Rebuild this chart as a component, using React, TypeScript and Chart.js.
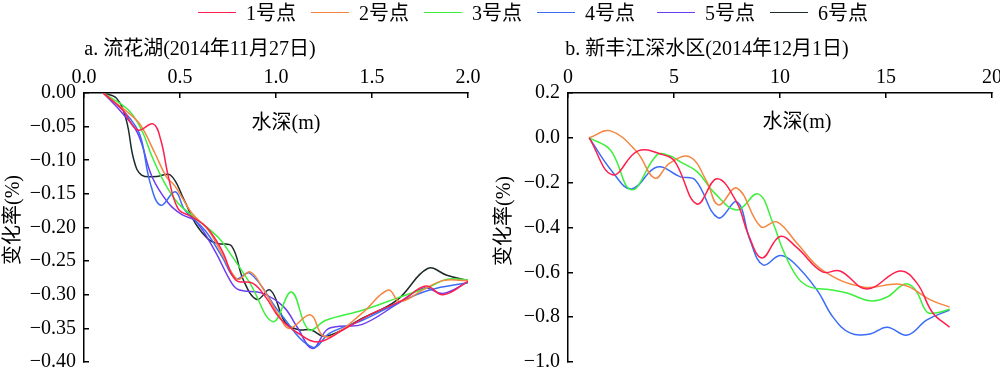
import React, { useEffect, useRef } from "react";
import { Chart, registerables } from "chart.js";

Chart.register(...registerables);

const FONT = "'Liberation Serif', 'Times New Roman', 'Noto Sans CJK SC', serif";

const SERIES_NAMES = ["1号点", "2号点", "3号点", "4号点", "5号点", "6号点"];
const SERIES_COLORS = ["#ff1f4e", "#f5853f", "#3df03d", "#3a6cf6", "#6b3df0", "#1c2b2b"];

const TITLE_A = "a. 流花湖(2014年11月27日)";
const TITLE_B = "b. 新丰江深水区(2014年12月1日)";
const X_TITLE = "水深(m)";
const Y_TITLE = "变化率(%)";

// Panel a axes
const A_X_TICKS = [0, 0.5, 1, 1.5, 2];
const A_Y_TICKS = [0, -0.05, -0.1, -0.15, -0.2, -0.25, -0.3, -0.35, -0.4];

// Panel a series (depth m, change %)
const A_X1 = [0.1, 0.2, 0.28, 0.36, 0.4, 0.44, 0.49, 0.56, 0.64, 0.72, 0.79, 0.88, 0.95, 1.02, 1.12, 1.22, 1.35, 1.5, 1.66, 1.78, 1.87, 2.0];
const A_Y1 = [0, -0.025, -0.055, -0.046, -0.07, -0.125, -0.172, -0.184, -0.2, -0.235, -0.278, -0.283, -0.305, -0.335, -0.358, -0.37, -0.352, -0.328, -0.308, -0.287, -0.3, -0.28];

const A_X2 = [0.1, 0.18, 0.25, 0.3, 0.37, 0.43, 0.47, 0.51, 0.56, 0.65, 0.72, 0.8, 0.865, 0.93, 1.02, 1.07, 1.18, 1.24, 1.3, 1.45, 1.585, 1.645, 1.77, 1.87, 2.0];
const A_Y2 = [0, -0.018, -0.034, -0.05, -0.09, -0.125, -0.137, -0.155, -0.178, -0.205, -0.24, -0.277, -0.266, -0.29, -0.333, -0.35, -0.33, -0.36, -0.36, -0.327, -0.293, -0.31, -0.292, -0.279, -0.279];

const A_X3 = [0.1, 0.23, 0.3, 0.355, 0.42, 0.49, 0.58, 0.7, 0.76, 0.865, 0.985, 1.08, 1.17, 1.26, 1.45, 1.63, 1.8, 1.89, 2.0];
const A_Y3 = [0, -0.025, -0.055, -0.095, -0.134, -0.164, -0.186, -0.215, -0.238, -0.283, -0.34, -0.296, -0.352, -0.338, -0.323, -0.305, -0.288, -0.277, -0.278];

const A_X4 = [0.1, 0.2, 0.27, 0.3, 0.345, 0.4, 0.475, 0.525, 0.63, 0.72, 0.79, 0.865, 1.02, 1.19, 1.28, 1.45, 1.63, 1.8, 2.0];
const A_Y4 = [0, -0.025, -0.05, -0.07, -0.134, -0.167, -0.147, -0.174, -0.204, -0.244, -0.276, -0.268, -0.327, -0.378, -0.357, -0.338, -0.313, -0.293, -0.282];

const A_X5 = [0.1, 0.2, 0.28, 0.355, 0.44, 0.51, 0.58, 0.68, 0.77, 0.81, 0.93, 1.04, 1.11, 1.19, 1.265, 1.33, 1.45, 1.63, 1.77, 1.87, 2.0];
const A_Y5 = [0, -0.03, -0.06, -0.125, -0.164, -0.181, -0.19, -0.234, -0.283, -0.293, -0.298, -0.318, -0.348, -0.38, -0.352, -0.347, -0.344, -0.314, -0.29, -0.298, -0.281];

const A_X6 = [0.1, 0.17, 0.22, 0.26, 0.3, 0.38, 0.45, 0.52, 0.58, 0.65, 0.7, 0.77, 0.83, 0.9, 0.97, 1.05, 1.12, 1.18, 1.26, 1.45, 1.63, 1.79, 1.89, 2.0];
const A_Y6 = [0, -0.008, -0.04, -0.1, -0.122, -0.124, -0.122, -0.158, -0.194, -0.218, -0.224, -0.228, -0.278, -0.307, -0.293, -0.342, -0.352, -0.352, -0.362, -0.335, -0.308, -0.261, -0.271, -0.279];

// Panel b axes
const B_X_TICKS = [0, 5, 10, 15, 20];
const B_Y_TICKS = [0.2, 0, -0.2, -0.4, -0.6, -0.8, -1.0];

// Panel b series
const B_X1 = [1, 2.1, 3.3, 4.5, 5.05, 6.08, 7.03, 7.97, 8.5, 9.15, 10.0, 10.8, 12.0, 12.83, 14.1, 15.66, 16.46, 17.2, 18];
const B_Y1 = [0, -0.165, -0.058, -0.076, -0.107, -0.295, -0.183, -0.29, -0.43, -0.536, -0.44, -0.49, -0.598, -0.594, -0.674, -0.594, -0.648, -0.78, -0.845];

const B_X2 = [1, 2, 3.25, 4.1, 4.8, 5.75, 6.55, 7.1, 7.97, 9.1, 9.85, 10.8, 12.0, 13.9, 15.5, 16.1, 17.1, 18];
const B_Y2 = [0, 0.031, -0.063, -0.18, -0.113, -0.085, -0.196, -0.3, -0.224, -0.397, -0.375, -0.47, -0.59, -0.665, -0.652, -0.665, -0.723, -0.755];

const B_X3 = [1, 2, 3, 4.2, 4.8, 5.3, 6.1, 6.85, 7.97, 8.96, 9.67, 10.14, 10.8, 11.4, 12.36, 13.16, 14.25, 15.05, 15.9, 16.4, 16.93, 17.4, 18];
const B_Y3 = [0, -0.054, -0.232, -0.076, -0.08, -0.107, -0.152, -0.24, -0.322, -0.25, -0.38, -0.5, -0.62, -0.665, -0.678, -0.692, -0.727, -0.71, -0.652, -0.68, -0.777, -0.78, -0.765];

const B_X4 = [1, 2.1, 3, 4.2, 5.3, 6, 7.08, 7.97, 8.6, 9.2, 10, 10.6, 11.74, 12.5, 13.3, 14.25, 15.05, 16, 16.93, 18];
const B_Y4 = [0, -0.152, -0.228, -0.13, -0.174, -0.188, -0.357, -0.286, -0.46, -0.567, -0.525, -0.553, -0.678, -0.8, -0.87, -0.875, -0.845, -0.88, -0.812, -0.768];

const A_SERIES = [
  [A_X1, A_Y1],
  [A_X2, A_Y2],
  [A_X3, A_Y3],
  [A_X4, A_Y4],
  [A_X5, A_Y5],
  [A_X6, A_Y6],
];
const B_SERIES = [
  [B_X1, B_Y1],
  [B_X2, B_Y2],
  [B_X3, B_Y3],
  [B_X4, B_Y4],
];

const minus = (s: string) => s.replace("-", "\u2212");

function makeConfig(p: {
  series: number[][][];
  xMin: number;
  xMax: number;
  xTicks: number[];
  xDec: number;
  yMin: number;
  yMax: number;
  yTicks: number[];
  yDec: number;
  yAxisWidth: number;
  padRight: number;
}): any {
  const tickFont = { family: FONT, size: 20 };
  const datasets = p.series.map(([xs, ys], i) => ({
    label: SERIES_NAMES[i],
    data: xs.map((x, j) => ({ x, y: ys[j] })),
    borderColor: SERIES_COLORS[i],
    backgroundColor: SERIES_COLORS[i],
    borderWidth: 1.5,
    pointRadius: 0,
    tension: 0.4,
    fill: false,
  }));
  return {
    type: "line",
    data: { datasets },
    options: {
      responsive: false,
      animation: false,
      events: [],
      layout: { padding: { left: 0, top: 0, right: p.padRight, bottom: 6 } },
      plugins: { legend: { display: false }, tooltip: { enabled: false }, title: { display: false } },
      scales: {
        x: {
          type: "linear",
          position: "top",
          min: p.xMin,
          max: p.xMax,
          afterBuildTicks: (s: any) => {
            s.ticks = p.xTicks.map((v) => ({ value: v }));
          },
          afterFit: (s: any) => {
            s.height = 93;
            s.paddingLeft = 0;
            s.paddingRight = 0;
          },
          ticks: {
            font: tickFont,
            color: "#000",
            padding: 8,
            maxRotation: 0,
            autoSkip: false,
            callback: (v: number) => minus(Number(v).toFixed(p.xDec)),
          },
          grid: { drawOnChartArea: false, drawTicks: true, tickLength: -5, color: "#000", lineWidth: 1.5 },
          border: { display: true, color: "#000", width: 1.5 },
        },
        y: {
          type: "linear",
          position: "left",
          min: p.yMin,
          max: p.yMax,
          afterBuildTicks: (s: any) => {
            s.ticks = p.yTicks.map((v) => ({ value: v }));
          },
          afterFit: (s: any) => {
            s.width = p.yAxisWidth;
            s.paddingTop = 0;
            s.paddingBottom = 0;
          },
          ticks: {
            font: tickFont,
            color: "#000",
            padding: 13,
            autoSkip: false,
            callback: (v: number) => {
              const r = Math.abs(v) < 1e-9 ? 0 : v;
              return minus(Number(r).toFixed(p.yDec));
            },
          },
          grid: { drawOnChartArea: false, drawTicks: true, tickLength: -5, color: "#000", lineWidth: 1.5 },
          border: { display: true, color: "#000", width: 1.5 },
        },
      },
    },
  };
}

function Panel(props: { config: () => any; left: number; width: number }) {
  const ref = useRef<HTMLCanvasElement | null>(null);
  useEffect(() => {
    if (!ref.current) return;
    const chart = new Chart(ref.current, props.config());
    return () => chart.destroy();
  }, []);
  return (
    <canvas
      ref={ref}
      width={props.width}
      height={368}
      style={{ position: "absolute", left: props.left, top: 0, width: props.width, height: 368 }}
    />
  );
}

const LEGEND_LEFTS = [198, 311, 424, 537, 657, 770];

export default function App() {
  const textStyle: React.CSSProperties = {
    position: "absolute",
    fontFamily: FONT,
    fontSize: 20,
    lineHeight: "24px",
    color: "#000",
    whiteSpace: "nowrap",
  };
  const yTitleStyle = (cx: number, cy: number): React.CSSProperties => ({
    ...textStyle,
    left: cx - 60,
    top: cy - 12,
    width: 120,
    height: 24,
    textAlign: "center",
    transform: "rotate(-90deg)",
  });
  return (
    <div
      style={{
        position: "fixed",
        left: 0,
        top: 0,
        width: 1000,
        height: 368,
        overflow: "hidden",
        background: "#fff",
      }}
    >
      <Panel
        left={0}
        width={490}
        config={() =>
          makeConfig({
            series: A_SERIES,
            xMin: 0,
            xMax: 2,
            xTicks: A_X_TICKS,
            xDec: 1,
            yMin: -0.4,
            yMax: 0,
            yTicks: A_Y_TICKS,
            yDec: 2,
            yAxisWidth: 84,
            padRight: 22,
          })
        }
      />
      <Panel
        left={490}
        width={520}
        config={() =>
          makeConfig({
            series: B_SERIES,
            xMin: 0,
            xMax: 20,
            xTicks: B_X_TICKS,
            xDec: 0,
            yMin: -1.0,
            yMax: 0.2,
            yTicks: B_Y_TICKS,
            yDec: 1,
            yAxisWidth: 78,
            padRight: 18,
          })
        }
      />
      {SERIES_NAMES.map((name, i) => (
        <React.Fragment key={name}>
          <div
            style={{
              position: "absolute",
              left: LEGEND_LEFTS[i],
              top: 12,
              width: 38,
              height: 0,
              borderTop: `1.5px solid ${SERIES_COLORS[i]}`,
            }}
          />
          <div style={{ ...textStyle, left: LEGEND_LEFTS[i] + 48, top: 1 }}>{name}</div>
        </React.Fragment>
      ))}
      <div style={{ ...textStyle, left: 0, width: 400, textAlign: "center", top: 36 }}>{TITLE_A}</div>
      <div style={{ ...textStyle, left: 507, width: 400, textAlign: "center", top: 36 }}>{TITLE_B}</div>
      <div style={{ ...textStyle, left: 186, width: 200, textAlign: "center", top: 110 }}>{X_TITLE}</div>
      <div style={{ ...textStyle, left: 697, width: 200, textAlign: "center", top: 109 }}>{X_TITLE}</div>
      <div style={yTitleStyle(12, 220)}>{Y_TITLE}</div>
      <div style={yTitleStyle(503, 221)}>{Y_TITLE}</div>
    </div>
  );
}
